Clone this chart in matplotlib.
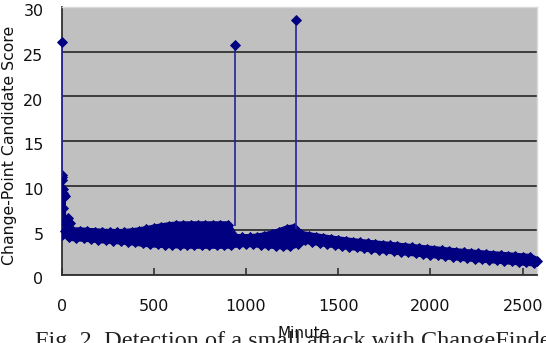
import numpy as np
import matplotlib
matplotlib.use("Agg")
import matplotlib.pyplot as plt
from matplotlib.transforms import ScaledTranslation

# ---- data ----
# dense oscillating score band: upper swings at minutes 20,60,...,2580 and lower swings at 40,80,...,2560
upper_minutes = np.arange(20, 2600, 40)
upper_scores = [4.95, 4.95, 4.95, 4.90, 4.85, 4.80, 4.78, 4.77, 4.77, 4.85,
                4.95, 5.10, 5.25, 5.40, 5.52, 5.60, 5.62, 5.63, 5.63, 5.63,
                5.63, 5.63, 5.63, 4.20, 4.20, 4.20, 4.25, 4.40, 4.60, 4.85,
                5.15, 5.30, 4.55, 4.42, 4.29, 4.17, 4.05, 3.94, 3.84, 3.74,
                3.65, 3.57, 3.49, 3.41, 3.33, 3.25, 3.17, 3.09, 3.01, 2.93,
                2.85, 2.77, 2.69, 2.61, 2.54, 2.47, 2.41, 2.35, 2.28, 2.22,
                2.16, 2.10, 2.04, 1.98, 1.60]
lower_minutes = np.arange(40, 2600, 40)
lower_scores = [4.20, 4.15, 4.10, 4.05, 3.95, 3.90, 3.85, 3.80, 3.75, 3.65,
                3.55, 3.48, 3.43, 3.40, 3.38, 3.35, 3.33, 3.32, 3.32, 3.32,
                3.32, 3.32, 3.33, 3.50, 3.50, 3.50, 3.40, 3.35, 3.30, 3.25,
                3.25, 3.45, 3.88, 3.75, 3.63, 3.51, 3.39, 3.29, 3.19, 3.10,
                3.01, 2.93, 2.85, 2.77, 2.69, 2.61, 2.53, 2.45, 2.37, 2.29,
                2.21, 2.13, 2.05, 1.97, 1.90, 1.84, 1.78, 1.71, 1.65, 1.59,
                1.53, 1.47, 1.41, 1.35]

# start-up transient at the very beginning
early_minutes = [0, 1, 3, 4, 6, 7, 9, 11, 14, 17, 21, 25, 30, 36, 44]
early_scores = [4.5, 11.2, 10.6, 11.0, 9.6, 9.2, 7.5, 9.0, 5.9, 8.8, 5.0, 6.2, 4.6, 6.4, 5.8]

# isolated change-point spikes
spike_minutes = [1, 938, 1270]
spike_bases = [11.0, 5.5, 5.2]
spike_scores = [26.1, 25.8, 28.5]

x_ticks = [0, 500, 1000, 1500, 2000, 2500]
y_ticks = [0, 5, 10, 15, 20, 25, 30]

# ---- styling ----
NAVY = "#000080"
W, H, DPI = 546, 343, 100
fig = plt.figure(figsize=(W / DPI, H / DPI), dpi=DPI, facecolor="white")
ax_left, ax_right, ax_bottom, ax_top = 61.6, 536.7, 275.0, 7.0
ax = fig.add_axes([ax_left / W, 1 - ax_bottom / H, (ax_right - ax_left) / W, (ax_bottom - ax_top) / H])
ax.set_facecolor("#c0c0c0")

# interleave the band swings in minute order
bx = np.concatenate([upper_minutes, lower_minutes])
by = np.concatenate([upper_scores, lower_scores])
order = np.argsort(bx, kind="stable")
bx, by = bx[order], by[order]

# solid body of the densely packed markers (envelope of the swings)
env_x = np.concatenate([upper_minutes, lower_minutes[::-1]])
env_y = np.concatenate([upper_scores, lower_scores[::-1]])
ax.fill(env_x, env_y, facecolor=NAVY, edgecolor=NAVY, linewidth=5.0,
        joinstyle="round", zorder=3, clip_on=False)

mstyle = dict(color=NAVY, marker="D", markersize=5.0, markeredgewidth=0.6,
              markeredgecolor=NAVY, linewidth=1.5, zorder=3)
ax.plot(early_minutes, early_scores, **mstyle)
ax.plot(bx, by, clip_on=False, **mstyle)

ax.vlines(spike_minutes, spike_bases, spike_scores, color="#24249a", linewidth=1.2, zorder=3)
ax.plot(spike_minutes, spike_scores, linestyle="none", marker="D", markersize=4.8,
        color=NAVY, markeredgewidth=0.6, zorder=4, clip_on=False)

ax.set_xlim(0, 2576)
ax.set_ylim(0, 30)
ax.set_xticks(x_ticks)
ax.set_yticks(y_ticks)

ax.yaxis.grid(True, color="#262626", linewidth=1.2)
ax.xaxis.grid(False)
ax.set_axisbelow(True)

for side in ("left", "bottom"):
    ax.spines[side].set_color("#303030")
    ax.spines[side].set_linewidth(1.3)
for side in ("top", "right"):
    ax.spines[side].set_color("#dadada")
    ax.spines[side].set_linewidth(1.0)

ax.tick_params(axis="x", direction="in", length=5, width=1.2, color="#303030", pad=17,
               labelsize=11.5, labelcolor="#111111")
ax.tick_params(axis="y", direction="in", length=0, pad=13, labelsize=11.5, labelcolor="#111111")
for lab in ax.get_yticklabels():
    lab.set_transform(lab.get_transform() + ScaledTranslation(0, -3.5 / DPI, fig.dpi_scale_trans))

ax.set_ylabel("Change-Point Candidate Score", fontsize=11.3, color="#111111", va="center")
ax.yaxis.set_label_coords(-52.5 / (ax_right - ax_left), 0.485)

# figure caption (partly cut off at the bottom edge, as in the reference)
fig.text(35 / W, -4.0 / H, "Fig. 2. Detection of a small attack with ChangeFinder",
         family="Liberation Serif", fontsize=17.5, color="#222222", va="baseline", ha="left")

ax.set_xlabel("Minute", fontsize=11, color="#111111", va="center")
ax.xaxis.set_label_coords(0.51, (ax_bottom - 334) / (ax_bottom - ax_top))

fig.savefig("out.png", dpi=DPI, facecolor="white")
